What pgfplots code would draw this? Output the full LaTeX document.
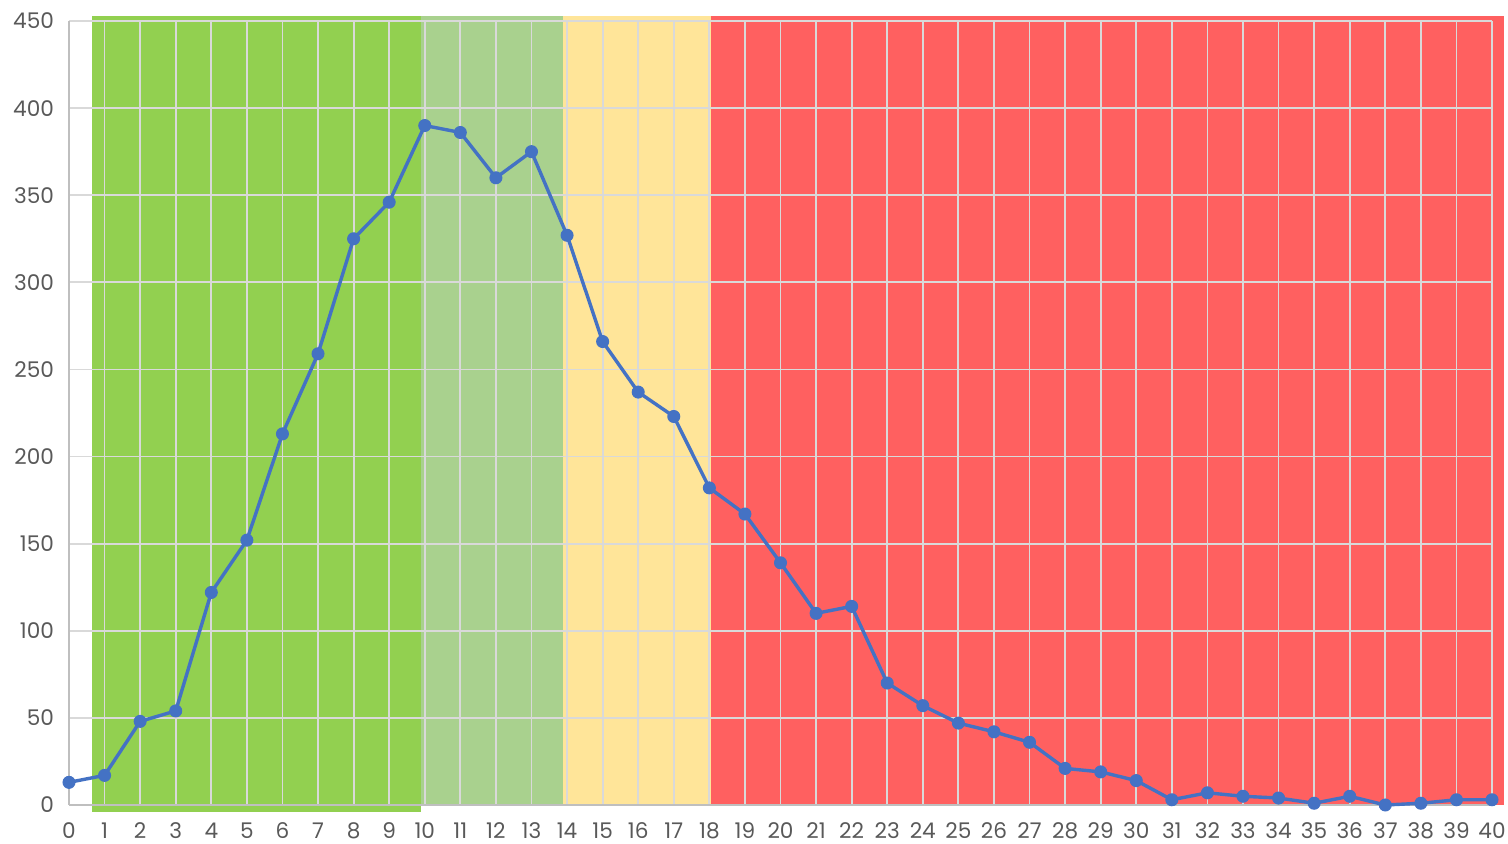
\documentclass[border=0pt]{standalone}
\usepackage{pgfplots}
\pgfplotsset{compat=1.18}
\usepackage{fontspec}
\setmainfont{Poppins}
\definecolor{bgreen}{HTML}{92D050}
\definecolor{lgreen}{HTML}{A9D18E}
\definecolor{byellow}{HTML}{FFE599}
\definecolor{bred}{HTML}{FF6060}
\definecolor{gridc}{HTML}{D9D9D9}
\definecolor{axc}{HTML}{BFBFBF}
\definecolor{linec}{HTML}{4472C4}
\definecolor{labc}{HTML}{595959}
\begin{document}
\begin{tikzpicture}
\begin{axis}[
  name=ax,
  set layers,
  scale only axis,
  width=711.5pt, height=392pt,
  xmin=0, xmax=40, ymin=0, ymax=450,
  clip=false,
  axis x line*=bottom, axis y line*=left,
  axis line style={axc, line width=0.8pt, -},
  xtick={0,1,...,40}, ytick={0,50,...,450},
  major tick length=0pt,
  grid=major,
  major grid style={gridc, line width=0.9pt},
  tick label style={font=\fontsize{10.8}{13}\selectfont, text=labc},
  /pgf/number format/assume math mode=true,
  xticklabel style={yshift=-5pt, text height=8pt, text depth=0pt},
  yticklabel style={xshift=-4pt},
]
\addplot[on layer=axis background, fill=bgreen, draw=none] coordinates {(0.65,-4) (9.9,-4) (9.9,452.7) (0.65,452.7)} -- cycle;
\addplot[on layer=axis background, fill=lgreen, draw=none] coordinates {(9.9,0) (13.89,0) (13.89,452.7) (9.9,452.7)} -- cycle;
\addplot[on layer=axis background, fill=byellow, draw=none] coordinates {(13.89,0) (18.05,0) (18.05,452.7) (13.89,452.7)} -- cycle;
\addplot[on layer=axis background, fill=bred, draw=none] coordinates {(18.05,0) (40.34,0) (40.34,452.7) (18.05,452.7)} -- cycle;
\addplot[linec, line width=1.7pt, mark=*, mark size=3pt, mark options={fill=linec, draw=linec, line width=0.5pt}] coordinates {
(0,13) (1,17) (2,48) (3,54) (4,122) (5,152) (6,213) (7,259) (8,325) (9,346)
(10,390) (11,386) (12,360) (13,375) (14,327) (15,266) (16,237) (17,223) (18,182) (19,167)
(20,139) (21,110) (22,114) (23,70) (24,57) (25,47) (26,42) (27,36) (28,21) (29,19)
(30,14) (31,3) (32,7) (33,5) (34,4) (35,1) (36,5) (37,0) (38,1) (39,3) (40,3)
};
\end{axis}
\pgfresetboundingbox
\path ([shift={(-34.5pt,-19.5pt)}]ax.south west) rectangle ([shift={(8pt,10.5pt)}]ax.north east);
\end{tikzpicture}
\end{document}
